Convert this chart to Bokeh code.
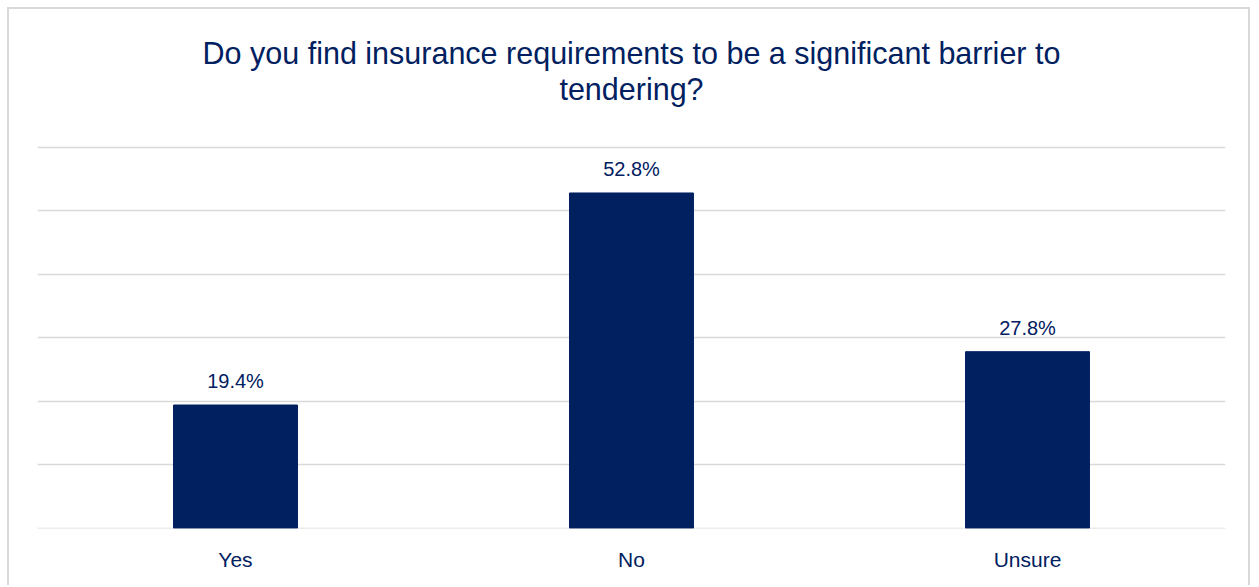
from bokeh.plotting import figure
from bokeh.models import ColumnDataSource, LabelSet, Range1d
from bokeh.core.properties import value
from bokeh.embed import file_html
from bokeh.resources import INLINE

categories = ["Yes", "No", "Unsure"]
values = [19.4, 52.8, 27.8]
value_labels = ["19.4%", "52.8%", "27.8%"]
title_lines = ["Do you find insurance requirements to be a significant barrier to", "tendering?"]
title_y = [74.8, 69.1]          # title baselines, in axis units above the 60% gridline
grid_ticks = [0, 10, 20, 30, 40, 50, 60]

NAVY = "#002060"
FONT = "Liberation Sans"

src = ColumnDataSource(dict(cat=categories, val=values, lab=value_labels))

p = figure(x_range=categories, y_range=Range1d(-0.05, 81.7), width=1243, height=578,
           output_backend="svg", toolbar_location=None,
           min_border_left=28, min_border_right=27, min_border_top=0, min_border_bottom=59)
p.styles = {"border-top": "2px solid #d9d9d9", "border-left": "2px solid #d9d9d9",
            "border-right": "2px solid #d9d9d9", "margin-left": "7px", "margin-top": "7px"}

# two centred title lines above the plotting area
p.text(x=["No", "No"], y=title_y, text=title_lines, text_align="center",
       text_baseline="alphabetic", text_font=value(FONT), text_font_size=value("30.5px"),
       text_color=NAVY)

p.vbar(x="cat", top="val", width=0.313, source=src, color=NAVY)

labels = LabelSet(x="cat", y="val", text="lab", source=src, text_align="center",
                  text_baseline="alphabetic", y_offset=17, text_font=value(FONT),
                  text_font_size=value("20px"), text_color=NAVY)
p.add_layout(labels)

p.outline_line_color = None
p.yaxis.visible = False
p.xgrid.grid_line_color = None
p.ygrid.grid_line_color = "#d9d9d9"
p.ygrid.grid_line_width = 1.5
p.yaxis.ticker = grid_ticks
p.xaxis.axis_line_color = None
p.xaxis.major_tick_line_color = None
p.xaxis.minor_tick_line_color = None
p.xaxis.major_label_text_font = FONT
p.xaxis.major_label_text_font_size = "21px"
p.xaxis.major_label_text_color = NAVY
p.xaxis.major_label_standoff = 13
p.x_range.range_padding = 0

open("out.html", "w").write(file_html(p, INLINE))
